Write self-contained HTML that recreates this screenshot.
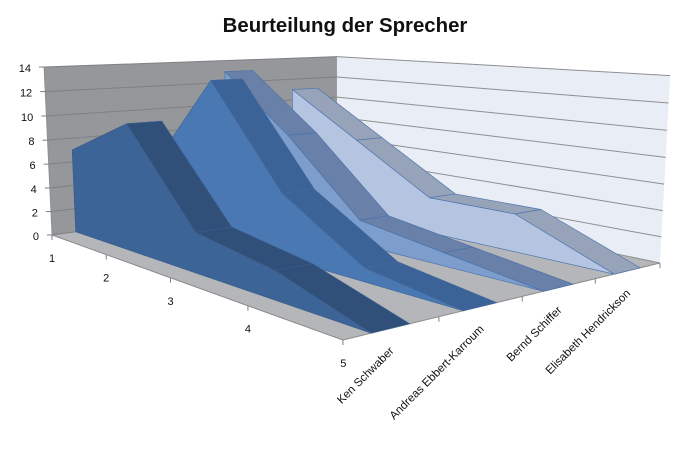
<!DOCTYPE html>
<html>
<head>
<meta charset="utf-8">
<style>
html,body{margin:0;padding:0;background:#fff;width:690px;height:476px;overflow:hidden}
svg{display:block}
text{font-family:"Liberation Sans",Arial,sans-serif;fill:#111}
</style>
</head>
<body>
<svg id="c" width="690" height="476" viewBox="0 0 690 476" xmlns="http://www.w3.org/2000/svg">
<g id="g"></g>
<text x="345" y="32" text-anchor="middle" font-size="20.4" font-weight="bold">Beurteilung der Sprecher</text>
<g font-size="11" text-anchor="end">
<text x="31" y="72">14</text>
<text x="32.2" y="96.6">12</text>
<text x="33.3" y="121">10</text>
<text x="34.5" y="145.2">8</text>
<text x="35.6" y="169.1">6</text>
<text x="36.8" y="193">4</text>
<text x="37.9" y="216.6">2</text>
<text x="39" y="240">0</text>
</g>
<g font-size="11" text-anchor="middle">
<text x="52" y="262">1</text>
<text x="106.2" y="281.6">2</text>
<text x="170.5" y="304.8">3</text>
<text x="247.9" y="332.7">4</text>
<text x="343.3" y="367">5</text>
</g>
<g font-size="11.5" text-anchor="end">
<text x="394.5" y="351.5" transform="rotate(-45 394.5 351.5)">Ken Schwaber</text>
<text x="484.5" y="329.7" transform="rotate(-45 484.5 329.7)">Andreas Ebbert-Karroum</text>
<text x="562.5" y="310.8" transform="rotate(-45 562.5 310.8)">Bernd Schiffer</text>
<text x="631" y="294" transform="rotate(-45 631 294)">Elisabeth Hendrickson</text>
</g>
</svg>
<script>
(function(){
var NS="http://www.w3.org/2000/svg";
var g=document.getElementById("g");
function P(c,s,v){
  var W=1-0.3127*c+0.2078*s-0.00195*v;
  return [(183.7*c+355*s-0.657*v+52)/W,(-1.3*c+1.7*s-12.13*v+235)/W];
}
function poly(pts,fill,stroke,sw){
  var e=document.createElementNS(NS,"polygon");
  e.setAttribute("points",pts.map(function(p){return p[0].toFixed(2)+","+p[1].toFixed(2);}).join(" "));
  e.setAttribute("fill",fill);
  if(stroke){e.setAttribute("stroke",stroke);e.setAttribute("stroke-width",sw);e.setAttribute("stroke-linejoin","round");}
  g.appendChild(e);
}
function line(a,b,col,w){
  var e=document.createElementNS(NS,"line");
  e.setAttribute("x1",a[0].toFixed(2));e.setAttribute("y1",a[1].toFixed(2));
  e.setAttribute("x2",b[0].toFixed(2));e.setAttribute("y2",b[1].toFixed(2));
  e.setAttribute("stroke",col);e.setAttribute("stroke-width",w);
  g.appendChild(e);
}
// walls
poly([P(0,0,0),P(0,1,0),P(0,1,14),P(0,0,14)],"#95979b");
poly([P(0,1,0),P(1,1,0),P(1,1,14),P(0,1,14)],"#e9edf5");
// floor
poly([P(0,0,0),P(1,0,0),P(1,1,0),P(0,1,0)],"#b4b6ba");
// gridlines
for(var v=0;v<=14;v+=2){
  line(P(0,0,v),P(0,1,v),"#7e8084",1);
  line(P(0,1,v),P(1,1,v),"#8e8f92",1);
}
// axis lines
line(P(0,0,0),P(0,0,14),"#8a8c90",0.8);
line(P(0,0,0),P(1,0,0),"#8c8c8c",1);
line(P(1,0,0),P(1,1,0),"#8c8c8c",1);
// y ticks
for(var v2=0;v2<=14;v2+=2){var p=P(0,0,v2);line([p[0]-5,p[1]],p,"#808080",1);}
// depth ticks
[0,0.25,0.5,0.75,1].forEach(function(c){var p=P(c,0,0);line(p,[p[0],p[1]+5],"#808080",1);});
[0.25,0.5,0.75,1].forEach(function(s){var p=P(1,s,0);line(p,[p[0],p[1]+5],"#808080",1);});
// series (back to front)
var S=[
 {v:[11,7,3,3,0],f:"#b5c5e1",t:"#97a3b9",k:3,st:"#4f77b0"},
 {v:[13,8,2,1,0],f:"#7d9dcd",t:"#6981a8",k:2,st:"#4b72a8"},
 {v:[5,13,5,1,0],f:"#4a78b3",t:"#3b6397",k:1,st:"#44699c"},
 {v:[7,10,3,2,0],f:"#3d6496",t:"#30507a",k:0,st:"#3a5d8c"}
];
var cs=[0,0.25,0.5,0.75,1];
S.forEach(function(o){
  var sf=0.25*o.k+0.07, sb=sf+0.1;
  for(var i=0;i<4;i++){
    poly([P(cs[i],sf,o.v[i]),P(cs[i+1],sf,o.v[i+1]),P(cs[i+1],sb,o.v[i+1]),P(cs[i],sb,o.v[i])],o.t,o.st,0.7);
  }
  var pts=[];
  for(var j=0;j<5;j++)pts.push(P(cs[j],sf,o.v[j]));
  pts.push(P(1,sf,0));pts.push(P(0,sf,0));
  poly(pts,o.f,o.st,0.7);
});
})();
</script>
</body>
</html>
